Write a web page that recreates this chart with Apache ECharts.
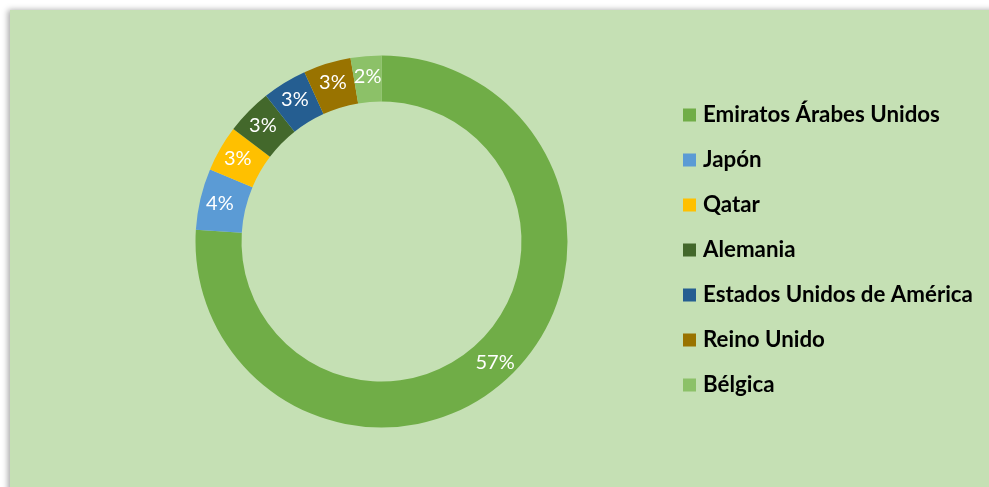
<!DOCTYPE html>
<html>
<head>
<meta charset="utf-8">
<script src="https://cdn.jsdelivr.net/npm/echarts@6/dist/echarts.min.js"></script>
<style>
  html, body { margin: 0; padding: 0; background: #fff; }
  #chart { width: 989px; height: 487px; }
</style>
</head>
<body>
<div id="chart"></div>
<script>
// paises y participacion (% del total)
var paises = ['Emiratos Árabes Unidos', 'Japón', 'Qatar', 'Alemania', 'Estados Unidos de América', 'Reino Unido', 'Bélgica'];
var participacion = [57, 4, 3, 3, 2.9, 3.1, 2];
var colores = ['#70AD47', '#5B9BD5', '#FFC000', '#43682B', '#255E91', '#997300', '#8CC168'];

var seriesData = paises.map(function (p, i) {
  return { name: p, value: participacion[i], itemStyle: { color: colores[i] } };
});

var chart = echarts.init(document.getElementById('chart'));
chart.setOption({
  animation: false,
  backgroundColor: '#fff',
  graphic: [{
    type: 'rect',
    z: -10,
    shape: { x: 10, y: 10, width: 1000, height: 500 },
    style: {
      fill: '#C5E0B4',
      shadowColor: 'rgba(0,0,0,0.35)',
      shadowBlur: 6,
      shadowOffsetX: -2,
      shadowOffsetY: 0
    }
  }],
  legend: {
    orient: 'vertical',
    left: 683,
    top: 104,
    padding: 0,
    itemWidth: 13,
    itemHeight: 13,
    itemGap: 23,
    icon: 'rect',
    data: paises,
    textStyle: {
      fontFamily: 'Lato',
      fontWeight: 'bold',
      fontSize: 22.3,
      lineHeight: 22,
      color: '#000',
      padding: [0, 0, 0, 2]
    }
  },
  series: [{
    type: 'pie',
    center: [381.5, 241.5],
    radius: [140, 186],
    startAngle: 90,
    clockwise: true,
    avoidLabelOverlap: false,
    label: {
      show: true,
      position: 'inside',
      color: '#fff',
      fontFamily: 'Lato',
      fontSize: 20,
      formatter: function (p) { return Math.round(p.value) + '%'; }
    },
    labelLine: { show: false },
    emphasis: { disabled: true },
    data: seriesData
  }]
});
</script>
</body>
</html>
